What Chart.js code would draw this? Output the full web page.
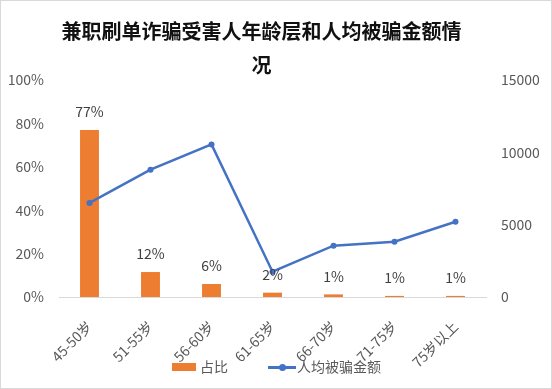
<!DOCTYPE html>
<html>
<head>
<meta charset="utf-8">
<script src="https://cdn.jsdelivr.net/npm/chart.js@4.4.1/dist/chart.umd.min.js"></script>
<style>
    html, body { margin: 0; padding: 0; background: #fff; }
    #wrap { width: 552px; height: 389px; position: relative; }
    #legend { position: absolute; left: 0; top: 356px; width: 552px; height: 20px;
              font: 14px "Noto Sans CJK SC", "Noto Sans", sans-serif; color: #595959; }
    #legend .item { position: absolute; top: 0; height: 20px; line-height: 20px; white-space: nowrap; }
    #legend .swatch { display: inline-block; vertical-align: middle; position: relative; margin-right: 4px; }
</style>
</head>
<body>
<div id="wrap">
    <canvas id="chart" width="552" height="389"></canvas>
    <div id="legend"></div>
</div>
<script>
// 年龄层
const ageGroups = ['45-50岁', '51-55岁', '56-60岁', '61-65岁', '66-70岁', '71-75岁', '75岁以上'];
// 占比 (%)
const shareValues = [77, 11.5, 6, 2, 1.2, 0.5, 0.5];
// 人均被骗金额
const avgLossValues = [6500, 8800, 10550, 1750, 3550, 3820, 5200];
const leftTicks = [0, 20, 40, 60, 80, 100];
const rightTicks = [0, 5000, 10000, 15000];

const barColor = '#ED7D31';
const lineColor = '#4472C4';
const textColor = '#595959';
const fontFamily = '"Noto Sans CJK SC", "Noto Sans", sans-serif';

// white background + thin frame
const framePlugin = {
    id: 'frame',
    beforeDraw(chart) {
        const ctx = chart.ctx;
        ctx.save();
        ctx.fillStyle = '#fff';
        ctx.fillRect(0, 0, chart.width, chart.height);
        ctx.strokeStyle = '#d9d9d9';
        ctx.lineWidth = 1;
        ctx.strokeRect(0.5, 0.5, chart.width - 1, chart.height - 1);
        ctx.restore();
    },
    afterLayout(chart) {
        // title sits a little left of the canvas centre
        if (chart.titleBlock) chart.titleBlock.right = chart.width - 29;
    }
};

// percent labels over the bars
const barLabelPlugin = {
    id: 'barLabels',
    afterDatasetsDraw(chart) {
        const ctx = chart.ctx;
        const meta = chart.getDatasetMeta(0);
        ctx.save();
        ctx.fillStyle = '#404040';
        ctx.font = '14px ' + fontFamily;
        ctx.textAlign = 'center';
        ctx.textBaseline = 'middle';
        meta.data.forEach((bar, i) => {
            ctx.fillText(Math.round(shareValues[i]) + '%', bar.x, bar.y - 18);
        });
        ctx.restore();
    }
};

const chart = new Chart(document.getElementById('chart'), {
    type: 'bar',
    data: {
        labels: ageGroups,
        datasets: [
            {
                label: '占比',
                data: shareValues,
                backgroundColor: barColor,
                yAxisID: 'y',
                barPercentage: 0.31,
                categoryPercentage: 1,
                order: 1
            },
            {
                label: '人均被骗金额',
                type: 'line',
                data: avgLossValues,
                borderColor: lineColor,
                backgroundColor: lineColor,
                borderWidth: 2.5,
                pointRadius: 3,
                pointBackgroundColor: lineColor,
                pointBorderWidth: 0,
                tension: 0,
                yAxisID: 'y1',
                order: 0
            }
        ]
    },
    options: {
        responsive: false,
        animation: false,
        devicePixelRatio: 1,
        layout: { padding: { left: 0, right: 0, top: 0, bottom: 22 } },
        plugins: {
            title: {
                display: true,
                text: ['兼职刷单诈骗受害人年龄层和人均被骗金额情', '况'],
                color: '#111',
                font: { family: fontFamily, size: 20, weight: 'bold', lineHeight: 1.7 },
                padding: { top: 14, bottom: -2 }
            },
            legend: { display: false },
            tooltip: { enabled: false }
        },
        scales: {
            x: {
                grid: { display: false },
                border: { display: true, color: '#d9d9d9' },
                ticks: {
                    color: textColor,
                    font: { family: fontFamily, size: 14 },
                    minRotation: 45,
                    maxRotation: 45,
                    padding: 13
                },
                afterFit: s => { s.height = 70; }
            },
            y: {
                position: 'left',
                min: 0,
                max: 100,
                afterBuildTicks: s => { s.ticks = leftTicks.map(v => ({ value: v })); },
                grid: { display: false, drawTicks: false },
                border: { display: false },
                ticks: {
                    color: textColor,
                    font: { family: fontFamily, size: 14 },
                    padding: 15,
                    callback: v => v + '%'
                },
                afterFit: s => { s.width = 59; }
            },
            y1: {
                position: 'right',
                min: 0,
                max: 15000,
                afterBuildTicks: s => { s.ticks = rightTicks.map(v => ({ value: v })); },
                grid: { display: false, drawTicks: false },
                border: { display: false },
                ticks: {
                    color: textColor,
                    font: { family: fontFamily, size: 14 },
                    padding: 15,
                    callback: v => String(v)
                },
                afterFit: s => { s.width = 66; }
            }
        }
    },
    plugins: [framePlugin, barLabelPlugin]
});

// HTML legend, Excel style: bar swatch and line-with-marker swatch
const legendEl = document.getElementById('legend');
const legendItems = [
    { text: chart.data.datasets[0].label, left: 172, swatch: `<span class="swatch" style="width:24px;height:8px;background:${barColor};top:-1px"></span>` },
    { text: chart.data.datasets[1].label, left: 268, swatch: `<span class="swatch" style="width:28px;height:3px;background:${lineColor};top:-1px;margin-right:1px"><span style="position:absolute;left:11px;top:-2px;width:7px;height:7px;border-radius:50%;background:${lineColor}"></span></span>` }
];
legendItems.forEach(item => {
    const el = document.createElement('div');
    el.className = 'item';
    el.style.left = item.left + 'px';
    el.innerHTML = item.swatch + '<span>' + item.text + '</span>';
    legendEl.appendChild(el);
});
</script>
</body>
</html>
